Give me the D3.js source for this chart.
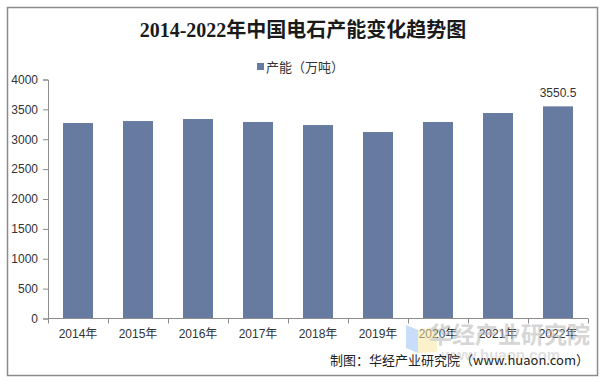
<!DOCTYPE html>
<html>
<head>
<meta charset="utf-8">
<script src="https://cdn.jsdelivr.net/npm/d3@7"></script>
<style>
  body { margin: 0; background: #fff; }
  svg { display: block; }
</style>
</head>
<body>
<svg class="d3"></svg>
<script>
// chart data
var years = ['2014年', '2015年', '2016年', '2017年', '2018年', '2019年', '2020年', '2021年', '2022年'];
var capacity = [3272, 3305, 3339, 3289, 3238, 3121, 3289, 3439, 3550.5];
var yTicks = [0, 500, 1000, 1500, 2000, 2500, 3000, 3500, 4000];
var seriesName = '产能（万吨）';
var titleText = '2014-2022年中国电石产能变化趋势图';
var sourceText = '制图：华经产业研究院（www.huaon.com）';

var width = 608, height = 382;
var barColor = '#677ba1';
var axisColor = '#8c8c8c';
var sansFont = '"Liberation Sans", Arial, "Noto Sans CJK SC", sans-serif';

var svg = d3.select('svg.d3')
    .attr('width', width)
    .attr('height', height);

// outer frame
svg.append('rect')
    .attr('x', 7.5).attr('y', 7.5)
    .attr('width', 590).attr('height', 368)
    .attr('fill', '#fff')
    .attr('stroke', axisColor)
    .attr('stroke-width', 1.5);

svg.append('text')
    .attr('x', 303).attr('y', 37)
    .attr('text-anchor', 'middle')
    .attr('font-family', '"Liberation Serif", "Noto Sans CJK SC", serif')
    .attr('font-weight', 'bold')
    .attr('font-size', 20)
    .attr('fill', '#1a1a1a')
    .text(titleText);

// legend
svg.append('rect')
    .attr('x', 257).attr('y', 63)
    .attr('width', 7).attr('height', 7)
    .attr('fill', barColor);
svg.append('text')
    .attr('x', 266).attr('y', 71.5)
    .attr('font-family', '"Noto Sans CJK SC", sans-serif')
    .attr('font-size', 13)
    .attr('fill', '#333')
    .text(seriesName);

var x = d3.scaleBand()
    .domain(years)
    .range([48, 588])
    .paddingInner(0.5)
    .paddingOuter(0.25);

var y = d3.scaleLinear()
    .domain([0, 4000])
    .range([318.5, 79.5]);

// y axis
var yAxis = svg.append('g')
    .attr('transform', 'translate(48,0)')
    .call(d3.axisLeft(y).tickValues(yTicks).tickFormat(d3.format('d')).tickSize(5).tickPadding(5));
yAxis.select('.domain').attr('stroke', axisColor);
yAxis.selectAll('.tick line').attr('stroke', axisColor);
yAxis.selectAll('.tick text')
    .attr('font-family', sansFont)
    .attr('font-size', 12)
    .attr('fill', '#333');

// bars
svg.selectAll('rect.bar')
    .data(capacity)
    .enter()
    .append('rect')
    .attr('class', 'bar')
    .attr('x', function(d, i) { return x(years[i]); })
    .attr('y', function(d) { return y(d); })
    .attr('width', x.bandwidth())
    .attr('height', function(d) { return y(0) - y(d); })
    .attr('fill', barColor);

// x axis with ticks at category boundaries
var xAxis = svg.append('g')
    .attr('transform', 'translate(0,' + y(0) + ')');
xAxis.append('line')
    .attr('x1', 48).attr('x2', 588)
    .attr('stroke', axisColor);
var step = x.step();
xAxis.selectAll('line.tick')
    .data(d3.range(years.length + 1))
    .enter()
    .append('line')
    .attr('class', 'tick')
    .attr('x1', function(d) { return 48.5 + d * step; })
    .attr('x2', function(d) { return 48.5 + d * step; })
    .attr('y1', 0).attr('y2', 5)
    .attr('stroke', axisColor);
xAxis.selectAll('text')
    .data(years)
    .enter()
    .append('text')
    .attr('x', function(d) { return x(d) + x.bandwidth() / 2; })
    .attr('y', 19)
    .attr('text-anchor', 'middle')
    .attr('font-family', sansFont)
    .attr('font-size', 12)
    .attr('fill', '#333')
    .text(function(d) { return d; });

// data label on the last bar
var last = capacity.length - 1;
svg.append('text')
    .attr('x', x(years[last]) + x.bandwidth() / 2)
    .attr('y', y(capacity[last]) - 9)
    .attr('text-anchor', 'middle')
    .attr('font-family', sansFont)
    .attr('font-size', 12)
    .attr('fill', '#333')
    .text(capacity[last]);

// watermark
var wm = svg.append('g').attr('opacity', 0.55);
wm.append('path')
    .attr('d', 'M406,325 L418,330 L418,353 L406,348 Z')
    .attr('fill', '#9cc3f5');
wm.append('path')
    .attr('d', 'M418,330 L437,326 L437,352 L418,353 Z')
    .attr('fill', '#f8e7a0');
wm.append('text')
    .attr('x', 590).attr('y', 343)
    .attr('text-anchor', 'end')
    .attr('font-family', '"Noto Sans CJK SC", sans-serif')
    .attr('font-weight', 'bold')
    .attr('font-size', 23)
    .attr('fill', '#b5b5b5')
    .text('华经产业研究院');
wm.append('text')
    .attr('x', 560).attr('y', 360)
    .attr('text-anchor', 'end')
    .attr('font-family', sansFont)
    .attr('font-weight', 'bold')
    .attr('font-size', 15)
    .attr('fill', '#c8c8c8')
    .text('www.huaon.com');

svg.append('text')
    .attr('x', 589).attr('y', 365)
    .attr('text-anchor', 'end')
    .attr('font-family', '"Noto Sans CJK SC", sans-serif')
    .attr('font-size', 13)
    .attr('fill', '#222')
    .text(sourceText);
</script>
</body>
</html>
